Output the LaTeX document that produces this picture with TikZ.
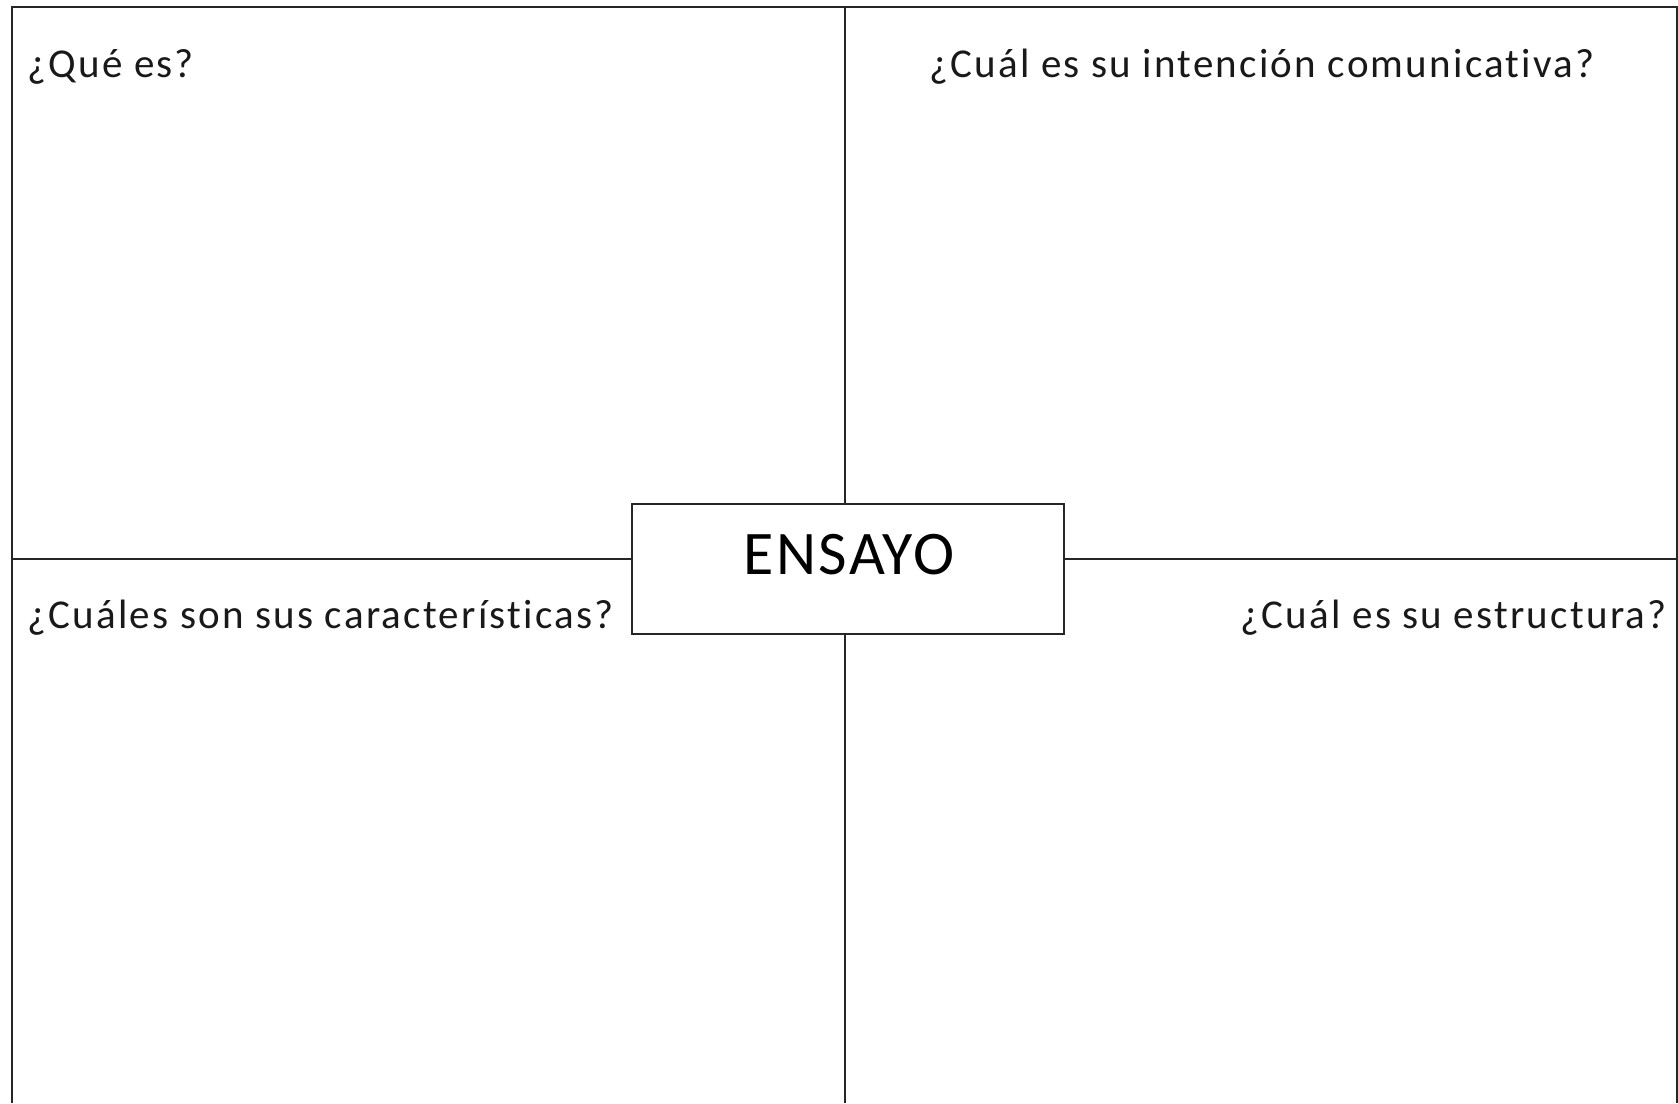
\documentclass[tikz,border=0pt]{standalone}
\usepackage{fontspec}
\setmainfont{Carlito}[Ligatures=NoCommon]
\newfontfamily\qfont{Carlito}[LetterSpace=5.5,Ligatures=NoCommon]
\newfontfamily\tfont{Carlito}[LetterSpace=4,Ligatures=NoCommon]
\begin{document}
\begin{tikzpicture}[x=1pt,y=-1pt,
  frameline/.style={line width=2pt,draw=black!85},
  qtext/.style={inner sep=0pt,font=\qfont\fontsize{41}{49}\selectfont,text=black!90},
  centerbox/.style={frameline,draw,fill=white,minimum width=432pt,minimum height=130pt,inner sep=0pt}]
\useasboundingbox (0,0) rectangle (1678,1103);
\fill[white] (0,0) rectangle (1678,1103);
% frame corners
\coordinate (bl) at (12,1103);
\coordinate (tl) at (12,7);
\coordinate (tr) at (1677,7);
\coordinate (br) at (1677,1103);
\coordinate (topmid) at (845,7);
\coordinate (botmid) at (845,1103);
\coordinate (leftmid) at (12,559);
\coordinate (rightmid) at (1677,559);
% center box
\node[centerbox] (ensayo) at (848,569) {};
\node[inner sep=0pt,anchor=base,font=\tfont\fontsize{62}{72}\selectfont,text=black] (ensayotxt) at (849,574) {ENSAYO};
% frame
\draw[frameline] (bl) -- (tl) -- (tr) -- (br);
% cross lines
\draw[frameline] (ensayo.north -| topmid) -- (topmid);
\draw[frameline] (ensayo.south -| botmid) -- (botmid);
\draw[frameline] (ensayo.west |- leftmid) -- (leftmid);
\draw[frameline] (ensayo.east |- rightmid) -- (rightmid);
% questions
\node[qtext,anchor=base west] (q1) at (27,77) {¿Qué es?};
\node[qtext,anchor=base east] (q2) at (1595,77) {¿Cuál es su intención comunicativa?};
\node[qtext,anchor=base west] (q3) at (27,628) {¿Cuáles son sus características?};
\node[qtext,anchor=base east] (q4) at (1667,628) {¿Cuál es su estructura?};
\end{tikzpicture}
\end{document}
